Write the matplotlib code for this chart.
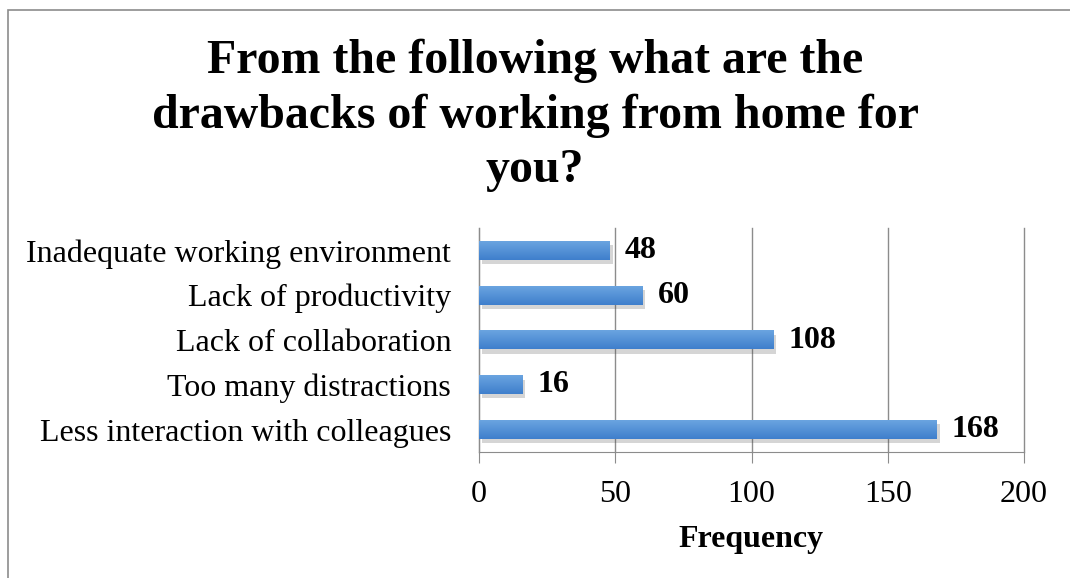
import numpy as np
import matplotlib.pyplot as plt
import matplotlib.patheffects as pe
from matplotlib.colors import LinearSegmentedColormap

categories = ['Less interaction with colleagues', 'Too many distractions',
              'Lack of collaboration', 'Lack of productivity',
              'Inadequate working environment']
values = [168, 16, 108, 60, 48]
xticks = [0, 50, 100, 150, 200]

plt.rcParams['font.family'] = ['Liberation Serif', 'DejaVu Serif']

fig = plt.figure(figsize=(10.7, 5.78), dpi=100)
ax = fig.add_axes([479 / 1070, 1 - 452 / 578, 545 / 1070, 224 / 578])

# outer chart border
fig.patches.append(plt.Rectangle((8 / 1070, -0.01), 1.1, 1 - 10 / 578 + 0.01,
                                 transform=fig.transFigure, fill=False,
                                 edgecolor='#8c8c8c', linewidth=1.2))

grad = LinearSegmentedColormap.from_list('bar', ['#3f7fcc', '#6aa4e0'])
y = np.arange(len(categories))
h = 0.42
bars = ax.barh(y, values, height=h, color='#4f8fd6', zorder=3,
               path_effects=[pe.SimplePatchShadow(offset=(2, -3), alpha=0.22,
                                                  shadow_rgbFace='#444444'),
                             pe.Normal()])
for b in bars:
    x0, y0 = b.get_x(), b.get_y()
    ax.imshow(np.linspace(0, 1, 50).reshape(-1, 1), cmap=grad, aspect='auto',
              extent=(x0, x0 + b.get_width(), y0, y0 + b.get_height()),
              origin='lower', zorder=4)

for yi, v in zip(y, values):
    ax.text(v + 5.5, yi, str(v), va='center', ha='left', fontsize=23,
            fontweight='bold', zorder=5)

ax.set_xlim(0, 200)
ax.set_ylim(-0.5, len(categories) - 0.5)
ax.set_xticks(xticks)
ax.set_yticks(y)
ax.set_yticklabels(categories)
ax.tick_params(axis='x', labelsize=23, length=8, color='#8c8c8c', pad=12)
ax.tick_params(axis='y', labelsize=23, length=0, pad=20)
ax.grid(axis='x', color='#8c8c8c', linewidth=1, zorder=0)
for gl in ax.get_xgridlines():
    gl.set_clip_on(False)
ax.set_axisbelow(True)
for s in ['top', 'right']:
    ax.spines[s].set_visible(False)
for s in ['left', 'bottom']:
    ax.spines[s].set_color('#8c8c8c')
ax.set_xlabel('Frequency', fontsize=23, fontweight='bold', labelpad=12)

fig.text(0.5, 1 - 39 / 578,
         'From the following what are the\ndrawbacks of working from home for\nyou?',
         ha='center', va='top', fontsize=34.5, fontweight='bold',
         linespacing=1.3)
ax.set_zorder(2)

fig.savefig('out.png', dpi=100)
